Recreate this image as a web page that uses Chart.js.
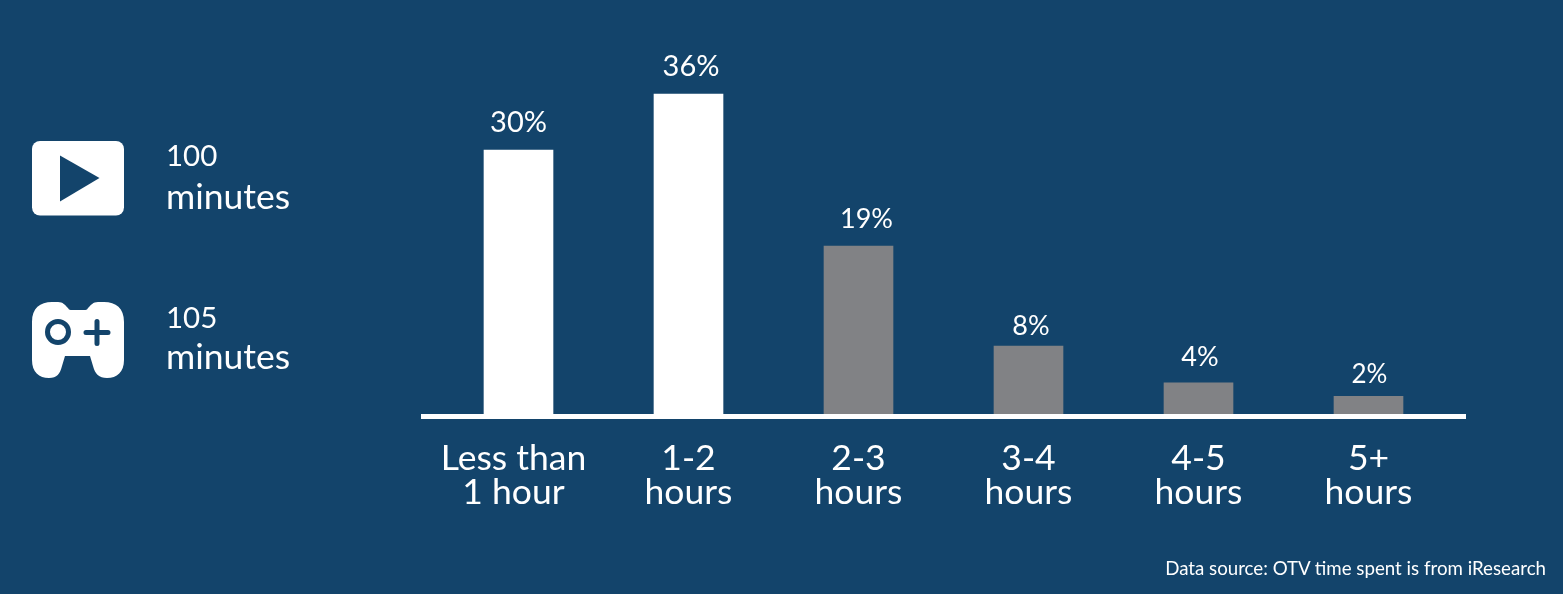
<!DOCTYPE html>
<html>
<head>
<meta charset="utf-8">
<style>
    html, body { margin: 0; padding: 0; background: #13446b; }
    #wrap { position: relative; width: 1563px; height: 594px; overflow: hidden; font-family: Lato, sans-serif; color: #fff; }
    #chart { position: absolute; left: 0; top: 0; }
    .num { position: absolute; left: 166px; font-size: 29.5px; line-height: 40px; }
    .unit { position: absolute; left: 166px; font-size: 35.5px; line-height: 44px; }
    .icon { position: absolute; left: 32px; }
    #source { position: absolute; right: 17px; top: 557px; font-size: 18.7px; line-height: 22px; white-space: nowrap; }
</style>
</head>
<body>
<div id="wrap">
    <canvas id="chart" width="1563" height="594"></canvas>

    <svg class="icon" style="top:141px" width="92" height="75" viewBox="0 0 92 75">
        <rect width="92" height="74.5" rx="8" fill="#fff"/>
        <path d="M28 14.5 L67.500 37 L28 60.500 Z" fill="#13446b"/>
    </svg>
    <div class="num" style="top:135px">100</div>
    <div class="unit" style="top:174px">minutes</div>

    <svg class="icon" style="top:302px" width="92" height="77" viewBox="0 0 92 77">
        <path d="M0 20 C0 6 8 0 20 0 L26 0 C31 0 33 3 36 6 C37 8 38 8 40 8 L52 8 C54 8 55 8 56 6 C59 3 61 0 66 0 L72 0 C84 0 92 6 92 20 L92 58 C92 70 85 76 75 76 C67 76 63 72 61 64 L58 54 L33 54 L30 64 C28 72 25 76 17 76 C7 76 0 70 0 58 Z" fill="#fff"/>
        <circle cx="26" cy="30" r="10.500" fill="none" stroke="#13446b" stroke-width="5"/>
        <path d="M54 30.500 L76 30.500 M65 19.500 L65 41.500" stroke="#13446b" stroke-width="5" stroke-linecap="round"/>
    </svg>
    <div class="num" style="top:297px">105</div>
    <div class="unit" style="top:334px">minutes</div>

    <div id="source">Data source: OTV time spent is from iResearch</div>
</div>

<script src="https://cdn.jsdelivr.net/npm/chart.js@4"></script>
<script>
    const categories = [['Less than', '1 hour'], ['1-2', 'hours'], ['2-3', 'hours'], ['3-4', 'hours'], ['4-5', 'hours'], ['5+', 'hours']];
    const shares = [29.7, 36, 18.9, 7.65, 3.5, 2];
    const shareLabels = ['30%', '36%', '19%', '8%', '4%', '2%'];
    const barColors = ['#ffffff', '#ffffff', '#818285', '#818285', '#818285', '#818285'];

    // Label styling per bar, the percents don't sit quite centred in the original
    const labelFontSizes = [29, 29, 27, 27, 27, 26];
    const labelShiftX = [0, 2.5, 8, 2.5, 1.5, 1];
    const labelGap = [18, 18, 18, 11, 17, 13];

    // Baseline sticks out past the plot area on both sides
    const baseline = {
        id: 'baseline',
        afterDatasetsDraw(chart) {
            const ctx = chart.ctx;
            const y = chart.scales.y.getPixelForValue(0);
            ctx.save();
            ctx.fillStyle = '#ffffff';
            ctx.fillRect(chart.chartArea.left - 12.5, y, chart.chartArea.width + 25, 5);
            ctx.restore();
        }
    };

    // Percent labels above each bar
    const barLabels = {
        id: 'barLabels',
        afterDatasetsDraw(chart) {
            const ctx = chart.ctx;
            ctx.save();
            ctx.fillStyle = '#ffffff';
            ctx.textAlign = 'center';
            ctx.textBaseline = 'alphabetic';
            chart.getDatasetMeta(0).data.forEach((bar, i) => {
                ctx.font = `${labelFontSizes[i]}px Lato, sans-serif`;
                ctx.fillText(shareLabels[i], bar.x + labelShiftX[i], bar.y - labelGap[i]);
            });
            ctx.restore();
        }
    };

    // "Less than 1 hour" sits a little left of its bar
    const firstTickShift = {
        id: 'firstTickShift',
        beforeDraw(chart) {
            const items = chart.scales.x.getLabelItems(chart.chartArea);
            items[0].options.translation[0] -= 5;
        }
    };

    new Chart(document.getElementById('chart'), {
        type: 'bar',
        data: {
            labels: categories,
            datasets: [{
                data: shares,
                backgroundColor: barColors,
                barThickness: 69,
                borderWidth: 0
            }]
        },
        options: {
            responsive: false,
            animation: false,
            devicePixelRatio: 1,
            layout: { padding: { left: 433.5, right: 109.5, top: 58.4, bottom: 0 } },
            plugins: { legend: { display: false }, tooltip: { enabled: false } },
            scales: {
                x: {
                    grid: { display: false, drawTicks: false },
                    border: { display: false },
                    afterFit(scale) { scale.height = 180; },
                    ticks: {
                        color: '#ffffff',
                        maxRotation: 0,
                        autoSkip: false,
                        padding: 27,
                        font: { family: 'Lato, sans-serif', size: 35.5, lineHeight: 0.97 }
                    }
                },
                y: {
                    display: false,
                    min: 0,
                    max: 40
                }
            }
        },
        plugins: [baseline, barLabels, firstTickShift]
    });
</script>
</body>
</html>
